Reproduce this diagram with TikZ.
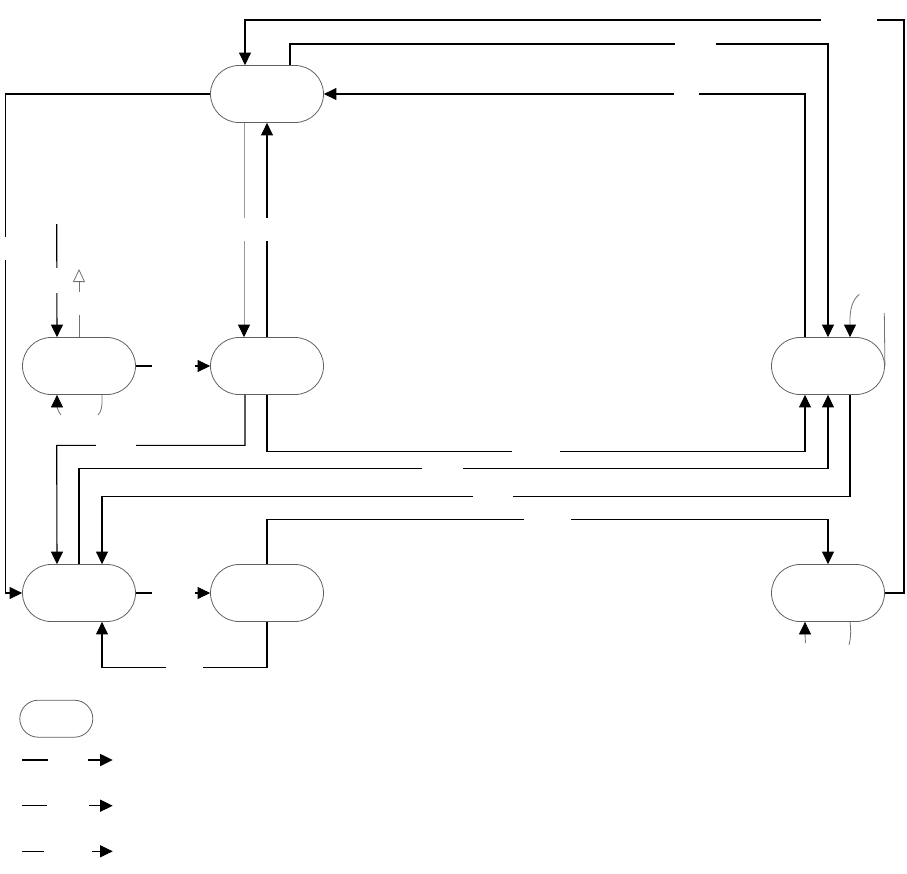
\documentclass[tikz,border=0pt]{standalone}
\usetikzlibrary{shapes.misc,arrows.meta,calc}
\begin{document}
\begin{tikzpicture}[x=1pt,y=-1pt,
  state/.style={rounded rectangle, draw=black!62, line width=0.8pt, minimum width=113pt, minimum height=57pt, inner sep=0pt},
  tip/.style={-{Triangle[length=12.5pt,width=12pt,color=black]}},
  conn/.style={draw=black, line width=1.1pt, tip},
  plain/.style={draw=black, line width=1pt},
  thinline/.style={draw=black!55, line width=0.8pt},
  lightline/.style={draw=black!40, line width=1pt},
  blank/.style={fill=white, inner sep=0pt, minimum width=#1, minimum height=8pt},
  vblank/.style={fill=white, inner sep=0pt, minimum height=#1, minimum width=8pt}
]
\useasboundingbox (0,0) rectangle (907,873);

% states
\node[state] (T)  at (267,94)  {};
\node[state] (L1) at (79,366)  {};
\node[state] (M1) at (267,366) {};
\node[state] (R1) at (828,366) {};
\node[state] (B1) at (79,593)  {};
\node[state] (B2) at (267,593) {};
\node[state] (B3) at (828,593) {};
\node[state, minimum width=73pt, minimum height=37pt] (K) at (56.3,718.7) {};

% free ends
\coordinate (s5)  at (56.7,224);
\coordinate (oa)  at (79,269);
\coordinate (la1) at (98,415);
\coordinate (la2) at (61,415);
\coordinate (ra1) at (884.3,313);
\coordinate (ra2) at (859.3,294.3);
\coordinate (ba1) at (805.5,643);
\coordinate (ba2) at (849,645);

% connectors
\draw[conn] (B3.east) -- (904,593) -- (904,20) -| ([xshift=-22pt]T.north);
\draw[conn] ([xshift=23pt]T.north) |- (828,44) -- (R1.north);
\draw[conn] ([xshift=-23pt]R1.north) |- (T.east);
\draw[conn] (T.west) -- (5.3,94) -- (5.3,593) -- (B1.west);
\draw[conn] (s5) -- ([xshift=-22pt]L1.north);
\draw[thinline, -{Triangle[open,length=13pt,width=12pt,fill=white]}] (L1.north) -- (oa);
\draw[lightline, tip] ([xshift=-23pt]T.south) -- ([xshift=-23pt]M1.north);
\draw[conn] (M1.north) -- (T.south);
\draw[conn] (L1.east) -- (M1.west);
\draw[conn] (B1.east) -- (B2.west);
\draw[thinline] ([xshift=23pt]L1.south) .. controls (102.5,408) and (101,412) .. (la1);
\draw[thinline, tip] (la2) .. controls (58,412) and (57,406) .. ([xshift=-22pt]L1.south);
\draw[conn] ([xshift=-22pt]M1.south) |- (56.7,445.3) -- ([xshift=-22pt]B1.north);
\draw[conn] (M1.south) |- (805,451.3) -- ([xshift=-23pt]R1.south);
\draw[conn] (B1.north) |- (828,468.3) -- (R1.south);
\draw[conn] ([xshift=22pt]R1.south) |- (102,496.3) -- ([xshift=23pt]B1.north);
\draw[conn] (B2.north) |- (828,519.3) -- (B3.north);
\draw[conn] (B2.south) |- (102,667.3) -- ([xshift=23pt]B1.south);
\draw[thinline] (R1.east) -- (ra1);
\draw[thinline, tip] (ra2) .. controls (852,300) and (850,310) .. (850,320) -- ([xshift=22pt]R1.north);
\draw[thinline, tip] (ba1) .. controls (805,636) and (805,630) .. ([xshift=-23pt]B3.south);
\draw[thinline] ([xshift=22pt]B3.south) .. controls (851,630) and (851,638) .. (ba2);

% legend arrows
\coordinate (a1) at (22.3,760);   \coordinate (b1) at (112.7,760);
\coordinate (a2) at (22.3,805.7); \coordinate (b2) at (112.7,805.7);
\coordinate (a3) at (22.3,851.3); \coordinate (b3) at (112.7,851.3);
\draw[conn] (a1) -- (b1);
\draw[conn] (a2) -- (b2);
\draw[conn] (a3) -- (b3);

% label gaps (blank labels)
\node[blank=56pt] at (849,20) {};
\node[blank=41pt] at (695.5,44) {};
\node[blank=25pt] at (686.5,94.3) {};
\node[vblank=23.3pt] at (5.3,248.3) {};
\node[vblank=24.7pt] at (56.7,280.3) {};
\node[vblank=23pt] at (79,303.5) {};
\node[blank=30pt, minimum height=23pt] at (255.5,229) {};
\node[blank=43.3pt] at (173.3,366.3) {};
\node[blank=43.3pt] at (173.3,593) {};
\node[blank=40pt] at (116.3,445.3) {};
\node[blank=48.3pt] at (535.8,451.3) {};
\node[blank=41pt] at (442.2,468.3) {};
\node[blank=40.3pt] at (492.8,496.3) {};
\node[blank=47.3pt] at (547.3,519.3) {};
\node[blank=36.7pt] at (184.3,667.3) {};
\node[blank=40.6pt] at (68,760) {};
\node[blank=42pt] at (68,805.7) {};
\node[blank=48.6pt] at (68,851.3) {};
\end{tikzpicture}
\end{document}
